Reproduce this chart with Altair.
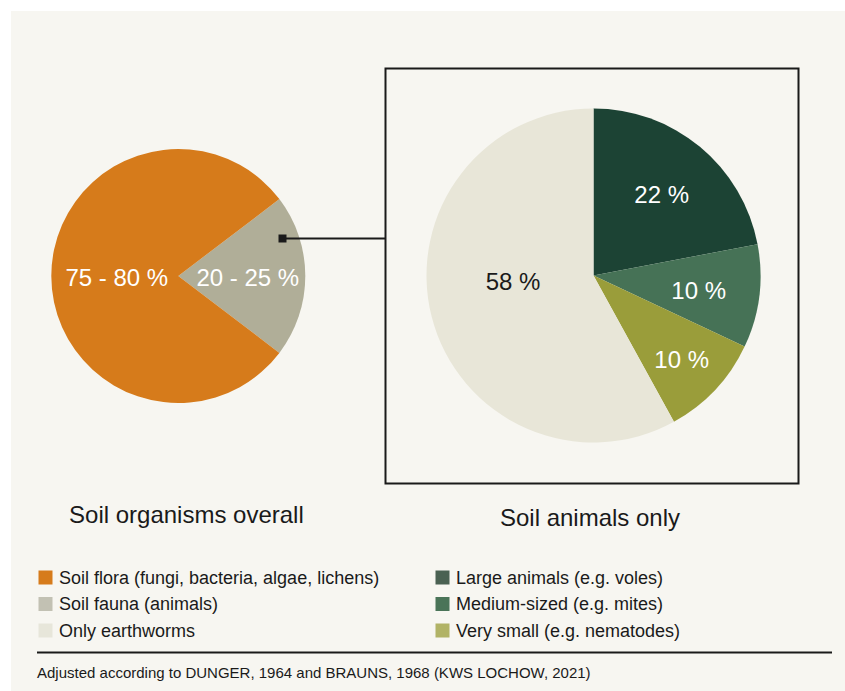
import math
import altair as alt
import pandas as pd

# ---------------- data ----------------
overall_cats = ["Soil fauna (animals)", "Soil flora (fungi, bacteria, algae, lichens)"]
overall_vals = [20.7, 79.3]
overall_labels = ["20 - 25 %", "75 - 80 %"]

animal_cats = ["Large animals (e.g. voles)", "Medium-sized (e.g. mites)",
               "Very small (e.g. nematodes)", "Only earthworms"]
animal_vals = [22, 10, 10, 58]
animal_labels = ["22 %", "10 %", "10 %", "58 %"]

legend_items = ["Soil flora (fungi, bacteria, algae, lichens)", "Soil fauna (animals)",
                "Only earthworms", "Large animals (e.g. voles)",
                "Medium-sized (e.g. mites)", "Very small (e.g. nematodes)"]
panel_titles = ["Soil organisms overall", "Soil animals only"]
source_note = ["Adjusted according to DUNGER, 1964 and BRAUNS, 1968 (KWS LOCHOW, 2021)"]

# ---------------- styles / layout ----------------
FONT = "Liberation Sans"
INK = "#1a1a1a"
PANEL = "#f7f6f1"
overall_colors = ["#b0ae98", "#d67b1b"]
overall_text = ["#ffffff", "#ffffff"]
overall_label_r = [69.5, 61.5]
animal_colors = ["#1c4334", "#467256", "#9a9d3a", "#e8e6d8"]
animal_text = ["#ffffff", "#ffffff", "#ffffff", INK]
animal_label_r = [107, 106, 121, 81]
legend_colors = ["#d67b1b", "#c2c1b3", "#e7e6da", "#4a6152", "#4a7458", "#b1b366"]

L_CX, L_CY, L_R = 178.3, 276, 127
R_CX, R_CY, R_R = 593.5, 275.5, 167

df_l = pd.DataFrame({"cat": overall_cats, "value": overall_vals, "lbl": overall_labels,
                     "col": overall_colors, "tc": overall_text, "lr": overall_label_r,
                     "ord": list(range(len(overall_cats)))})
df_r = pd.DataFrame({"cat": animal_cats, "value": animal_vals, "lbl": animal_labels,
                     "col": animal_colors, "tc": animal_text, "lr": animal_label_r,
                     "ord": list(range(len(animal_cats)))})

# left pie rotated so the fauna slice is centred at 3 o'clock
start = math.pi / 2 - math.pi * overall_vals[0] / sum(overall_vals)
l_theta = alt.Scale(domain=[0, sum(overall_vals)], range=[start, start + 2 * math.pi])
r_theta = alt.Scale(domain=[0, sum(animal_vals)], range=[0, 2 * math.pi])


def pie_arcs(df, scale, cx, cy, r):
    return alt.Chart(df).mark_arc(radius=r, stroke=None).encode(
        theta=alt.Theta("value:Q", stack=True, scale=scale),
        order=alt.Order("ord:Q"),
        color=alt.Color("col:N", scale=None),
        x=alt.value(cx), y=alt.value(cy))


def pie_labels(df, scale, cx, cy, dx=0, dy=3, show=None):
    base = alt.Chart(df).transform_window(
        cum="sum(value)", sort=[alt.SortField("ord")]
    ).transform_calculate(mid="datum.cum - datum.value / 2")
    enc = dict(
        theta=alt.Theta("mid:Q", stack=None, scale=scale),
        radius=alt.Radius("lr:Q", scale=None),
        text="lbl:N",
        color=alt.Color("tc:N", scale=None),
        x=alt.value(cx), y=alt.value(cy))
    if show is not None:
        enc["opacity"] = alt.when(show).then(alt.value(1)).otherwise(alt.value(0))
    return base.mark_text(font=FONT, fontSize=24, baseline="middle", align="center",
                          dx=dx, dy=dy).encode(**enc)


panel = alt.Chart(pd.DataFrame({"a": [0]})).mark_rect(color=PANEL).encode(
    x=alt.value(11), x2=alt.value(845), y=alt.value(11), y2=alt.value(691))

left = alt.layer(pie_arcs(df_l, l_theta, L_CX, L_CY, L_R),
                 pie_labels(df_l, l_theta, L_CX, L_CY))
right = alt.layer(pie_arcs(df_r, r_theta, R_CX, R_CY, R_R),
                  pie_labels(df_r, r_theta, R_CX, R_CY, show=alt.datum.ord < 3),
                  pie_labels(df_r, r_theta, R_CX, R_CY, dx=-2, dy=-13, show=alt.datum.ord == 3))

box = alt.Chart(pd.DataFrame({"a": [0]})).mark_rect(fill=None, stroke=INK, strokeWidth=2).encode(
    x=alt.value(385.5), x2=alt.value(798.5), y=alt.value(68.5), y2=alt.value(483.5))
connector = alt.Chart(pd.DataFrame({"a": [0]})).mark_rule(color=INK, strokeWidth=2).encode(
    x=alt.value(283), x2=alt.value(385), y=alt.value(238.5))
dot = alt.Chart(pd.DataFrame({"a": [0]})).mark_square(color=INK, size=64, opacity=1).encode(
    x=alt.value(282.5), y=alt.value(238.5))

df_t = pd.DataFrame({"t": panel_titles, "px": [186.4, 590], "py": [523, 526]})
titles = alt.Chart(df_t).mark_text(font=FONT, fontSize=24, color=INK, align="center",
                                   baseline="alphabetic").encode(
    x=alt.X("px:Q", scale=None), y=alt.Y("py:Q", scale=None), text="t:N")

n = len(legend_items)
df_leg = pd.DataFrame({
    "item": legend_items, "col": legend_colors,
    "sx": [45.5 if i < 3 else 442.5 for i in range(n)],
    "tx": [59 if i < 3 else 456 for i in range(n)],
    "py": [577.5 + 26.5 * (i % 3) for i in range(n)],
})
leg_sq = alt.Chart(df_leg).mark_square(size=196, opacity=1).encode(
    x=alt.X("sx:Q", scale=None), y=alt.Y("py:Q", scale=None),
    color=alt.Color("col:N", scale=None))
leg_txt = alt.Chart(df_leg).mark_text(font=FONT, fontSize=18, color=INK, align="left",
                                      baseline="middle", dy=1).encode(
    x=alt.X("tx:Q", scale=None), y=alt.Y("py:Q", scale=None), text="item:N")

rule = alt.Chart(pd.DataFrame({"a": [0]})).mark_rule(color=INK, strokeWidth=2).encode(
    x=alt.value(37), x2=alt.value(832), y=alt.value(652.5))
note = alt.Chart(pd.DataFrame({"t": source_note})).mark_text(
    font=FONT, fontSize=15, color=INK, align="left", baseline="alphabetic").encode(
    x=alt.value(37), y=alt.value(678), text="t:N")

chart = alt.layer(panel, left, right, box, connector, dot, titles, leg_sq, leg_txt, rule, note).resolve_scale(
    theta="independent", radius="independent", color="independent", x="independent", y="independent",
    opacity="independent"
).properties(
    width=845, height=691, padding=0, background="white",
    autosize=alt.AutoSizeParams(type="none"),
).configure_view(stroke=None)

chart.save("out.html", embed_options={"renderer": "svg", "actions": False})
